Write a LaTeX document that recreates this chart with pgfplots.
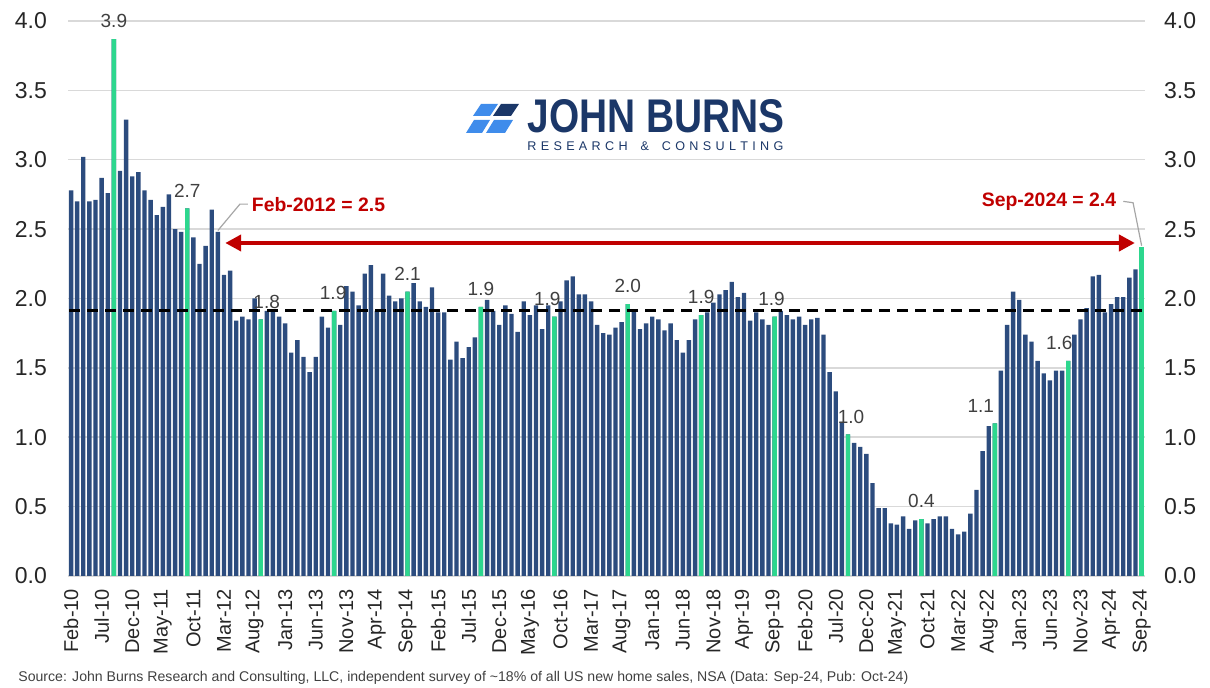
\documentclass[border=0pt]{standalone}
\usepackage{fontspec}
\setmainfont{Liberation Sans}
\usepackage{pgfplots}
\pgfplotsset{compat=1.18}
\usepackage{pgfplotstable}
\usetikzlibrary{arrows.meta}

\definecolor{barblue}{HTML}{2C4C7E}
\definecolor{bargreen}{HTML}{2DD78E}
\definecolor{jbred}{HTML}{C00000}
\definecolor{gridgray}{HTML}{D9D9D9}
\definecolor{ticktext}{HTML}{262626}
\definecolor{labelgray}{HTML}{404040}
\definecolor{leadergray}{HTML}{A6A6A6}
\definecolor{logonavy}{HTML}{1B3768}
\definecolor{logoblue}{HTML}{3F8CEB}
\definecolor{srcgray}{HTML}{404040}

\pgfplotstableread{
x y
0 2.78
1 2.70
2 3.02
3 2.70
4 2.71
5 2.87
6 2.76
7 3.87
8 2.92
9 3.29
10 2.88
11 2.91
12 2.78
13 2.71
14 2.60
15 2.66
16 2.75
17 2.50
18 2.48
19 2.65
20 2.44
21 2.25
22 2.38
23 2.64
24 2.48
25 2.17
26 2.20
27 1.84
28 1.87
29 1.85
30 2.00
31 1.85
32 1.91
33 1.91
34 1.87
35 1.82
36 1.61
37 1.70
38 1.58
39 1.47
40 1.58
41 1.87
42 1.79
43 1.91
44 1.81
45 2.09
46 2.05
47 1.95
48 2.18
49 2.24
50 1.91
51 2.18
52 2.02
53 1.98
54 2.00
55 2.05
56 2.11
57 1.98
58 1.94
59 2.08
60 1.90
61 1.90
62 1.56
63 1.69
64 1.57
65 1.65
66 1.72
67 1.94
68 1.99
69 1.91
70 1.81
71 1.95
72 1.89
73 1.76
74 1.98
75 1.88
76 1.95
77 1.78
78 1.95
79 1.87
80 1.98
81 2.13
82 2.16
83 2.03
84 2.03
85 1.98
86 1.81
87 1.75
88 1.74
89 1.79
90 1.83
91 1.96
92 1.91
93 1.78
94 1.82
95 1.87
96 1.85
97 1.77
98 1.82
99 1.70
100 1.61
101 1.70
102 1.85
103 1.88
104 1.90
105 1.97
106 2.03
107 2.06
108 2.12
109 2.01
110 2.04
111 1.84
112 1.90
113 1.85
114 1.81
115 1.87
116 1.91
117 1.88
118 1.85
119 1.87
120 1.81
121 1.85
122 1.86
123 1.74
124 1.47
125 1.33
126 1.11
127 1.02
128 0.96
129 0.93
130 0.88
131 0.67
132 0.49
133 0.49
134 0.38
135 0.37
136 0.43
137 0.34
138 0.40
139 0.41
140 0.38
141 0.41
142 0.43
143 0.43
144 0.34
145 0.30
146 0.32
147 0.45
148 0.62
149 0.90
150 1.08
151 1.10
152 1.48
153 1.81
154 2.05
155 1.99
156 1.74
157 1.69
158 1.55
159 1.46
160 1.41
161 1.48
162 1.48
163 1.55
164 1.74
165 1.85
166 1.93
167 2.16
168 2.17
169 1.90
170 1.96
171 2.01
172 2.01
173 2.15
174 2.21
175 2.37
}\alldata

\pgfplotstableread{
x y lab dx
7 3.87 3.9 0
19 2.65 2.7 0
31 1.85 1.8 3
43 1.91 1.9 -0.5
55 2.05 2.1 0
67 1.94 1.9 0
79 1.87 1.9 -3.5
91 1.96 2.0 0
103 1.88 1.9 0
115 1.87 1.9 -1.5
127 1.02 1.0 1.5
139 0.41 0.4 0
151 1.10 1.1 -7
163 1.55 1.6 -4.5
}\greendata

\begin{document}
\begin{tikzpicture}
\useasboundingbox (-34pt,-56pt) rectangle (571pt,288pt);
\begin{axis}[
  at={(0pt,0pt)}, anchor=south west,
  scale only axis, width=538.5pt, height=277.5pt,
  xmin=-0.5, xmax=175.55, ymin=0, ymax=4,
  axis line style={draw=none},
  major tick length=0pt,
  ytick={0,0.5,1,1.5,2,2.5,3,3.5,4},
  ymajorgrids, grid style={gridgray, line width=0.75pt},
  /pgf/number format/assume math mode=true,
  yticklabel style={/pgf/number format/fixed, /pgf/number format/fixed zerofill, /pgf/number format/precision=1, font=\fontsize{11.5}{13}\selectfont, text=ticktext},
  yticklabel shift=7pt,
  xtick={0,5,...,175},
  xticklabels={Feb-10,Jul-10,Dec-10,May-11,Oct-11,Mar-12,Aug-12,Jan-13,Jun-13,Nov-13,Apr-14,Sep-14,Feb-15,Jul-15,Dec-15,May-16,Oct-16,Mar-17,Aug-17,Jan-18,Jun-18,Nov-18,Apr-19,Sep-19,Feb-20,Jul-20,Dec-20,May-21,Oct-21,Mar-22,Aug-22,Jan-23,Jun-23,Nov-23,Apr-24,Sep-24},
  xticklabel style={rotate=90, anchor=east, font=\fontsize{10}{12}\selectfont, text=ticktext},
  xticklabel shift=3pt,
  clip=false,
]
\addplot[ybar, bar width=0.72, bar shift=0pt, fill=barblue, draw=none] table[x=x,y=y] {\alldata};
\addplot[ybar, bar width=0.72, bar shift=0pt, fill=bargreen, draw=none,
  nodes near coords, point meta=explicit symbolic,
  visualization depends on={\thisrow{dx} \as \dxv},
  every node near coord/.append style={font=\fontsize{9.5}{11}\selectfont, text=labelgray, xshift=\dxv pt, yshift=2pt}]
  table[x=x,y=y,meta=lab] {\greendata};
\addplot[ybar, bar width=0.72, bar shift=0pt, fill=bargreen, draw=none] coordinates {(175,2.37)};
\addplot[black, line width=1.5pt, dash pattern=on 5.5pt off 3.5pt] coordinates {(-0.3,1.91) (175.2,1.91)};
\addplot[jbred, line width=2pt, {Triangle[length=8pt,width=8pt]}-{Triangle[length=8pt,width=8pt]}] coordinates {(25.2,2.40) (173.9,2.40)};
\addplot[leadergray, line width=0.6pt] coordinates {(24,2.49) (27.6,2.68) (28.9,2.68)};
\addplot[leadergray, line width=0.6pt] coordinates {(172.0,2.70) (173.6,2.69) (175,2.38)};
\node[anchor=west, inner sep=0pt, text=jbred, font=\bfseries\fontsize{9.7}{11}\selectfont] at (axis cs:29.5,2.68) {Feb-2012 = 2.5};
\node[anchor=east, inner sep=0pt, text=jbred, font=\bfseries\fontsize{9.7}{11}\selectfont] at (axis cs:170.9,2.70) {Sep-2024 = 2.4};
\end{axis}
\begin{axis}[
  at={(0pt,0pt)}, anchor=south west,
  scale only axis, width=538.5pt, height=277.5pt,
  xmin=-0.5, xmax=175.55, ymin=0, ymax=4,
  hide x axis, axis y line*=right,
  axis line style={draw=none},
  major tick length=0pt,
  ytick={0,0.5,1,1.5,2,2.5,3,3.5,4},
  /pgf/number format/assume math mode=true,
  yticklabel style={/pgf/number format/fixed, /pgf/number format/fixed zerofill, /pgf/number format/precision=1, font=\fontsize{11.5}{13}\selectfont, text=ticktext},
  yticklabel shift=6pt,
]
\addplot[draw=none] coordinates {(0,0)};
\end{axis}
% logo and source, in image-pixel coordinates
\begin{scope}[shift={(-34pt,288pt)}, x=0.5pt, y=-0.5pt]
  \fill[logoblue] (473,116) -- (490,116) -- (498,104) -- (481,104) -- cycle;
  \fill[logonavy] (493,116) -- (511,116) -- (519,104) -- (501,104) -- cycle;
  \fill[logoblue] (466,133) -- (482,133) -- (490,120) -- (474,120) -- cycle;
  \fill[logoblue] (486,133) -- (505,133) -- (513,120) -- (494,120) -- cycle;
  \node[anchor=base west, inner sep=0pt, text=logonavy] at (527,133) {\resizebox{128.5pt}{16.5pt}{\bfseries JOHN BURNS}};
  \node[anchor=base west, inner sep=0pt, text=logonavy, font=\fontsize{6.3}{7}\selectfont] at (527,150.5) {\hbox to 128pt{R\hfil E\hfil S\hfil E\hfil A\hfil R\hfil C\hfil H\hfil\hfil\hfil \&\hfil\hfil\hfil C\hfil O\hfil N\hfil S\hfil U\hfil L\hfil T\hfil I\hfil N\hfil G}};
  \node[anchor=base west, inner sep=0pt, text=srcgray, font=\fontsize{7.05}{8.5}\selectfont] at (18,682) {Source: John Burns Research and Consulting, LLC, independent survey of \textasciitilde18\% of all US new home sales, NSA (Data: Sep-24, Pub: Oct-24)};
\end{scope}
\end{tikzpicture}
\end{document}
